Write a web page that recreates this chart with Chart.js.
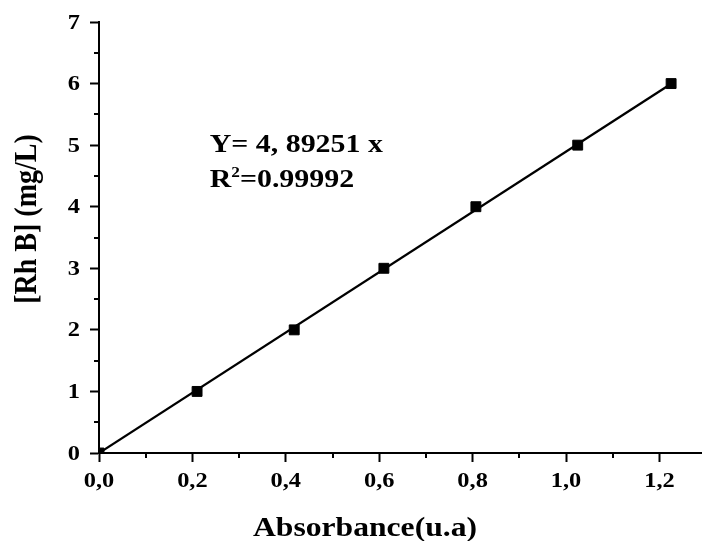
<!DOCTYPE html>
<html>
<head>
<meta charset="utf-8">
<script src="https://cdn.jsdelivr.net/npm/chart.js@4/dist/chart.umd.min.js"></script>
<style>
  html, body { margin: 0; padding: 0; background: #fff; }
  #wrap { width: 709px; height: 541px; }
</style>
</head>
<body>
<div id="wrap"><canvas id="c" width="709" height="541"></canvas></div>
<script>
// ---- data ----
const absorbance = [0, 0.21, 0.418, 0.61, 0.807, 1.025, 1.225];
const concentration = [0, 1, 2, 3, 4, 5, 6];
const fitX = [0, 1.226];
const fitY = [0, 6];
const xTickValues = [0, 0.2, 0.4, 0.6, 0.8, 1.0, 1.2];
const xTickLabels = ['0,0', '0,2', '0,4', '0,6', '0,8', '1,0', '1,2'];
const xMinorTicks = [0.1, 0.3, 0.5, 0.7, 0.9, 1.1];
const yTickValues = [0, 1, 2, 3, 4, 5, 6, 7];
const yTickLabels = ['0', '1', '2', '3', '4', '5', '6', '7'];
const yMinorTicks = [0.5, 1.5, 2.5, 3.5, 4.5, 5.5, 6.5];
const xTitle = 'Absorbance(u.a)';
const yTitle = '[Rh B] (mg/L)';
const eqLine = 'Y= 4, 89251 x';
const r2Value = '=0.99992';
const annotX = 0.237;
const annotY1 = 4.889;
const annotY2 = 4.32;

const SERIF = '"Liberation Serif", "Times New Roman", serif';
const STRETCH = 1.15;

const extrasPlugin = {
  id: 'extras',
  afterDraw(chart) {
    const ctx = chart.ctx;
    const xs = chart.scales.x, ys = chart.scales.y;
    const area = chart.chartArea;
    ctx.save();
    // minor ticks
    ctx.strokeStyle = '#000';
    ctx.lineWidth = 2;
    ctx.beginPath();
    xMinorTicks.forEach(v => {
      const px = Math.round(xs.getPixelForValue(v));
      ctx.moveTo(px, area.bottom);
      ctx.lineTo(px, area.bottom + 5);
    });
    yMinorTicks.forEach(v => {
      const py = Math.round(ys.getPixelForValue(v));
      ctx.moveTo(area.left, py);
      ctx.lineTo(area.left - 5, py);
    });
    ctx.stroke();

    ctx.fillStyle = '#000';

    // tick labels (horizontally stretched like the reference)
    ctx.font = 'bold 20px ' + SERIF;
    ctx.textBaseline = 'alphabetic';
    xTickValues.forEach((v, i) => {
      ctx.save();
      ctx.translate(xs.getPixelForValue(v), area.bottom + 34);
      ctx.scale(1.22, 1);
      ctx.textAlign = 'center';
      ctx.fillText(xTickLabels[i], 0, 0);
      ctx.restore();
    });
    yTickValues.forEach((v, i) => {
      ctx.save();
      ctx.translate(area.left - 19, ys.getPixelForValue(v) + 6.6);
      ctx.scale(1.22, 1);
      ctx.textAlign = 'right';
      ctx.fillText(yTickLabels[i], 0, 0);
      ctx.restore();
    });

    // annotation
    const ax = xs.getPixelForValue(annotX);
    const ay1 = ys.getPixelForValue(annotY1);
    const ay2 = ys.getPixelForValue(annotY2);
    ctx.textBaseline = 'alphabetic';
    ctx.textAlign = 'left';
    ctx.save();
    ctx.translate(ax, ay1);
    ctx.scale(STRETCH, 1);
    ctx.font = 'bold 26px ' + SERIF;
    ctx.fillText(eqLine, 0, 0);
    ctx.restore();

    ctx.save();
    ctx.translate(ax, ay2);
    ctx.scale(STRETCH, 1);
    ctx.font = 'bold 26px ' + SERIF;
    ctx.fillText('R', 0, 0);
    let w = ctx.measureText('R').width;
    ctx.font = 'bold 15px ' + SERIF;
    ctx.fillText('2', w, -10);
    w += ctx.measureText('2').width;
    ctx.font = 'bold 26px ' + SERIF;
    ctx.fillText(r2Value, w, 0);
    ctx.restore();

    // x title
    ctx.save();
    ctx.translate(365, 536);
    ctx.scale(1.13, 1);
    ctx.font = 'bold 28px ' + SERIF;
    ctx.textAlign = 'center';
    ctx.fillText(xTitle, 0, 0);
    ctx.restore();

    // y title
    ctx.save();
    ctx.translate(28, 219);
    ctx.scale(1.13, 1);
    ctx.rotate(-Math.PI / 2);
    ctx.font = 'bold 28px ' + SERIF;
    ctx.textAlign = 'center';
    ctx.textBaseline = 'middle';
    ctx.fillText(yTitle, 0, 0);
    ctx.restore();

    ctx.restore();
  }
};

new Chart(document.getElementById('c'), {
  type: 'scatter',
  data: {
    datasets: [
      {
        type: 'line',
        label: 'fit',
        data: fitX.map((x, i) => ({ x: x, y: fitY[i] })),
        borderColor: '#000',
        borderWidth: 2.3,
        pointRadius: 0,
        fill: false,
        order: 2
      },
      {
        label: 'data',
        data: absorbance.map((x, i) => ({ x: x, y: concentration[i] })),
        pointStyle: 'rect',
        pointRadius: 7,
        backgroundColor: '#000',
        borderColor: '#000',
        borderWidth: 1,
        showLine: false,
        clip: 0,
        order: 1
      }
    ]
  },
  options: {
    responsive: false,
    animation: false,
    events: [],
    layout: { padding: { top: 22, right: 0, left: 0, bottom: 0 } },
    plugins: { legend: { display: false }, tooltip: { enabled: false } },
    scales: {
      x: {
        type: 'linear',
        min: 0,
        max: 1.289,
        afterBuildTicks(scale) { scale.ticks = xTickValues.map(v => ({ value: v })); },
        afterFit(scale) { scale.height = 88; },
        ticks: { display: false },
        grid: { drawOnChartArea: false, drawTicks: true, tickLength: 9, color: '#000', tickWidth: 2 },
        border: { display: true, color: '#000', width: 2 }
      },
      y: {
        type: 'linear',
        min: 0,
        max: 7,
        afterBuildTicks(scale) { scale.ticks = yTickValues.map(v => ({ value: v })); },
        afterFit(scale) { scale.width = 99; },
        ticks: { display: false },
        grid: { drawOnChartArea: false, drawTicks: true, tickLength: 9, color: '#000', tickWidth: 2 },
        border: { display: true, color: '#000', width: 2 }
      }
    }
  },
  plugins: [extrasPlugin]
});
</script>
</body>
</html>
